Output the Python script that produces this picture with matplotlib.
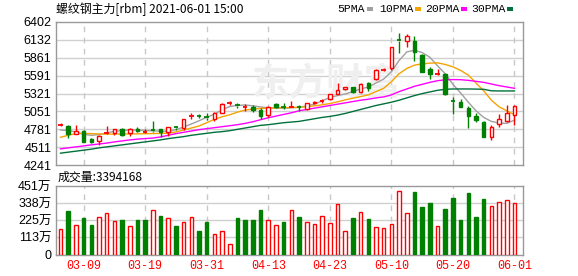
import numpy as np
import matplotlib
matplotlib.use('Agg')
import matplotlib.pyplot as plt
from matplotlib.patches import Rectangle

plt.rcParams['font.family'] = ['Noto Sans CJK SC', 'DejaVu Sans']

# ==========================================
# Data
# ==========================================
dates = ['03-04', '03-05', '03-08', '03-09', '03-10', '03-11', '03-12', '03-15', '03-16', '03-17',
         '03-18', '03-19', '03-22', '03-23', '03-24', '03-25', '03-26', '03-29', '03-30', '03-31',
         '04-01', '04-02', '04-06', '04-07', '04-08', '04-09', '04-12', '04-13', '04-14', '04-15',
         '04-16', '04-19', '04-20', '04-21', '04-22', '04-23', '04-26', '04-27', '04-28', '04-29',
         '04-30', '05-06', '05-07', '05-10', '05-11', '05-12', '05-13', '05-14', '05-17', '05-18',
         '05-19', '05-20', '05-21', '05-24', '05-25', '05-26', '05-27', '05-28', '05-31', '06-01']

opens = [4838, 4830, 4711, 4755, 4630, 4610, 4720, 4731, 4786, 4721,
         4786, 4740, 4766, 4781, 4746, 4816, 4795, 4976, 4986, 4966,
         4931, 5031, 5176, 5146, 5110, 5122, 5072, 4996, 5163, 5125,
         5108, 5125, 5082, 5173, 5203, 5238, 5314, 5384, 5414, 5349,
         5485, 5535, 5680, 5702, 6130, 6115, 6115, 5903, 5692, 5611,
         5616, 5213, 5198, 5107, 4981, 4896, 4659, 4860, 4911, 4991]
highs = [4880, 4845, 4840, 4775, 4645, 4694, 4835, 4790, 4801, 4796,
         4811, 4781, 4911, 4785, 4815, 4836, 4935, 5021, 5016, 5026,
         5041, 5171, 5211, 5171, 5163, 5148, 5097, 5132, 5183, 5173,
         5208, 5148, 5178, 5203, 5233, 5319, 5485, 5425, 5425, 5485,
         5495, 5686, 5702, 6025, 6231, 6221, 6190, 5918, 5727, 5686,
         5626, 5273, 5233, 5132, 5022, 4906, 4840, 5007, 5142, 5142]
lows = [4836, 4650, 4705, 4585, 4575, 4540, 4715, 4700, 4681, 4681,
        4736, 4725, 4746, 4661, 4681, 4776, 4770, 4941, 4946, 4921,
        4906, 5021, 5146, 5106, 5062, 5047, 4931, 4971, 5097, 5082,
        5097, 5062, 5072, 5163, 5183, 5223, 5309, 5374, 5324, 5334,
        5364, 5525, 5666, 5677, 5928, 6019, 5818, 5641, 5535, 5601,
        5299, 5012, 5112, 4805, 4896, 4669, 4619, 4820, 4896, 4845]
closes = [4842, 4705, 4756, 4595, 4595, 4675, 4728, 4781, 4701, 4781,
          4756, 4745, 4761, 4746, 4811, 4806, 4931, 4986, 4976, 4956,
          5021, 5161, 5186, 5136, 5115, 5072, 4981, 5112, 5122, 5120,
          5113, 5120, 5173, 5193, 5208, 5314, 5374, 5414, 5349, 5460,
          5400, 5676, 5686, 6019, 6120, 6190, 5944, 5651, 5611, 5616,
          5314, 5208, 5122, 4981, 4921, 4669, 4810, 4936, 5022, 5132]

ma5 = [4770, 4762, 4740, 4705, 4690, 4700, 4725, 4750, 4762, 4770,
       4768, 4762, 4758, 4752, 4750, 4775, 4815, 4860, 4910, 4960,
       5010, 5075, 5125, 5140, 5148, 5135, 5118, 5105, 5100, 5097,
       5105, 5112, 5135, 5160, 5210, 5262, 5290, 5315, 5350, 5390,
       5420, 5480, 5540, 5650, 5820, 5950, 5975, 5940, 5870, 5740,
       5620, 5460, 5330, 5190, 5060, 4960, 4900, 4875, 4870, 4920]
ma10 = [4660, 4690, 4715, 4720, 4715, 4710, 4708, 4708, 4710, 4710,
        4712, 4714, 4716, 4718, 4720, 4740, 4770, 4800, 4830, 4880,
        4930, 4970, 5000, 5040, 5072, 5085, 5097, 5100, 5105, 5108,
        5110, 5112, 5122, 5135, 5150, 5170, 5195, 5225, 5250, 5275,
        5300, 5350, 5400, 5500, 5620, 5700, 5750, 5770, 5780, 5785,
        5760, 5725, 5670, 5600, 5480, 5360, 5220, 5120, 5060, 5000]
ma20 = [4485, 4500, 4515, 4530, 4545, 4558, 4572, 4590, 4605, 4620,
        4632, 4640, 4648, 4665, 4690, 4715, 4735, 4755, 4775, 4790,
        4805, 4820, 4835, 4850, 4870, 4895, 4925, 4955, 4980, 5005,
        5030, 5060, 5080, 5100, 5120, 5140, 5160, 5180, 5200, 5220,
        5235, 5255, 5270, 5300, 5350, 5390, 5430, 5460, 5490, 5515,
        5528, 5532, 5530, 5520, 5505, 5490, 5465, 5440, 5420, 5400]
ma30 = [4420, 4435, 4450, 4465, 4480, 4500, 4515, 4530, 4545, 4560,
        4575, 4590, 4605, 4620, 4640, 4655, 4670, 4690, 4705, 4720,
        4735, 4745, 4760, 4780, 4800, 4820, 4840, 4850, 4865, 4880,
        4890, 4900, 4920, 4940, 4960, 4975, 4995, 5020, 5050, 5080,
        5110, 5140, 5165, 5190, 5220, 5255, 5290, 5320, 5345, 5370,
        5385, 5390, 5390, 5390, 5388, 5385, 5362, 5360, 5360, 5360]

# volume in units of 10k (万)
volume = [171, 286, 191, 240, 194, 244, 271, 218, 227, 185,
          227, 227, 290, 253, 238, 187, 211, 244, 154, 216,
          132, 158, 66, 240, 227, 227, 293, 224, 191, 213,
          290, 246, 213, 200, 253, 207, 332, 154, 240, 279,
          233, 180, 174, 200, 416, 273, 411, 312, 339, 187,
          299, 372, 227, 405, 246, 365, 319, 345, 359, 339.4168]
vol_up = [1, 0, 1, 0, 0, 1, 1, 1, 0, 1, 0, 0, 1, 0, 1, 0, 1, 1, 0, 0,
          1, 1, 1, 0, 0, 0, 0, 1, 1, 0, 1, 0, 1, 1, 1, 1, 1, 1, 0, 1,
          0, 1, 1, 1, 1, 1, 0, 0, 0, 1, 0, 0, 0, 0, 0, 0, 1, 1, 1, 1]

price_ticks = ['4241', '4511', '4781', '5051', '5321', '5591', '5861', '6132', '6402']
vol_ticks = ['0', '113万', '225万', '338万', '451万']

RED = '#ff0000'
GREEN = '#008000'
GRID = '#d0d0d0'
BORDER = '#999999'
ma_colors = {'5PMA': '#a0a0a0', '10PMA': '#f5a300', '20PMA': '#ff00ff', '30PMA': '#00703c'}

W, H = 578, 276
fig = plt.figure(figsize=(W / 100, H / 100), dpi=100)
fig.patch.set_facecolor('white')

def px_axes(left, top, right, bottom):
    return fig.add_axes([left / W, 1 - bottom / H, (right - left) / W, (bottom - top) / H])

ax = px_axes(55.5, 22, 522.5, 165)
ax_vol = px_axes(55.5, 186, 522.5, 254.5)

n = len(closes)
x = np.arange(n)
xlim = (-0.65, n + 0.04)
tick_idx = list(range(3, n, 8))

# ==========================================
# Price panel
# ==========================================
y_lo, y_hi = float(price_ticks[0]), float(price_ticks[-1])
ax.set_xlim(*xlim)
ax.set_ylim(y_lo, y_hi)
ax.set_yticks(np.linspace(y_lo, y_hi, len(price_ticks)))
ax.set_yticklabels(price_ticks, family=['Liberation Sans'], fontsize=9)
ax.set_xticks([])
for yv in np.linspace(y_lo, y_hi, len(price_ticks))[1:-1]:
    ax.axhline(yv, color=GRID, lw=1, zorder=0)
for i in tick_idx:
    ax.axvline(i, color='#c8c8c8', lw=1, ls=(0, (4, 4)), zorder=0)

# faint watermark
ax.text(0.58, 0.57, '东方财富', transform=ax.transAxes, fontsize=27, color='#efefef',
        ha='center', va='center', fontweight='bold', zorder=0)

for name, vals in [('5PMA', ma5), ('10PMA', ma10), ('20PMA', ma20), ('30PMA', ma30)]:
    ax.plot(x, vals, color=ma_colors[name], lw=1, zorder=2)

bw = 0.46
for i in range(n):
    o, h, l, c = opens[i], highs[i], lows[i], closes[i]
    up = c >= o
    col = RED if up else GREEN
    top, bot = max(o, c), min(o, c)
    ax.vlines(i, top, h, color=col, lw=1, zorder=3)
    ax.vlines(i, l, bot, color=col, lw=1, zorder=3)
    if top - bot < 12:
        ax.hlines((o + c) / 2, i - bw / 2 - 0.07, i + bw / 2 + 0.07, color=col, lw=1.3, zorder=3)
    else:
        ax.add_patch(Rectangle((i - bw / 2, bot), bw, top - bot, facecolor='white' if up else GREEN,
                               edgecolor=col, lw=1, zorder=4))

# ==========================================
# Volume panel
# ==========================================
v_top = float(vol_ticks[-1][:-1])
ax_vol.set_xlim(*xlim)
ax_vol.set_ylim(0, v_top)
vt = np.linspace(0, v_top, len(vol_ticks))
ax_vol.set_yticks(vt)
ax_vol.set_yticklabels(vol_ticks, family=['Liberation Sans', 'Noto Sans CJK SC'], fontsize=9)
for yv in vt[1:-1]:
    ax_vol.axhline(yv, color=GRID, lw=1, zorder=0)
for i in tick_idx:
    ax_vol.axvline(i, color='#c8c8c8', lw=1, ls=(0, (4, 4)), zorder=0)
ax_vol.bar(x, volume, width=bw,
           color=['white' if u else GREEN for u in vol_up],
           edgecolor=[RED if u else GREEN for u in vol_up], lw=1, zorder=3)
ax_vol.set_xticks(tick_idx)
ax_vol.set_xticklabels([dates[i] for i in tick_idx], color=RED, fontsize=8.5,
                       family=['Liberation Mono'])

for a in (ax, ax_vol):
    for s in a.spines.values():
        s.set_color(BORDER)
        s.set_linewidth(1)
    a.tick_params(length=0, pad=3)
ax_vol.tick_params(axis='x', pad=4)

# ==========================================
# Header texts and legend
# ==========================================
fig.text(56 / W, 1 - 9 / H, '螺纹钢主力[rbm] 2021-06-01 15:00', fontsize=8.6, va='center', ha='left')
fig.text(58 / W, 1 - 177 / H, '成交量:%d' % round(volume[-1] * 10000), fontsize=8.6, va='center', ha='left')

leg_x = [337, 379, 425, 471]
for (name, col), lx in zip(ma_colors.items(), leg_x):
    t = fig.text(lx / W, 1 - 9 / H, name, fontsize=8.2, va='center', ha='left',
                 family=['Liberation Mono'])
    fig.canvas.draw()
    bb = t.get_window_extent()
    fig.add_artist(Rectangle(((bb.x1 + 2) / W, 1 - 10.5 / H), 6 / W, 3 / H,
                             transform=fig.transFigure, color=col, lw=0))

fig.savefig('out.png', dpi=100, facecolor='white')
